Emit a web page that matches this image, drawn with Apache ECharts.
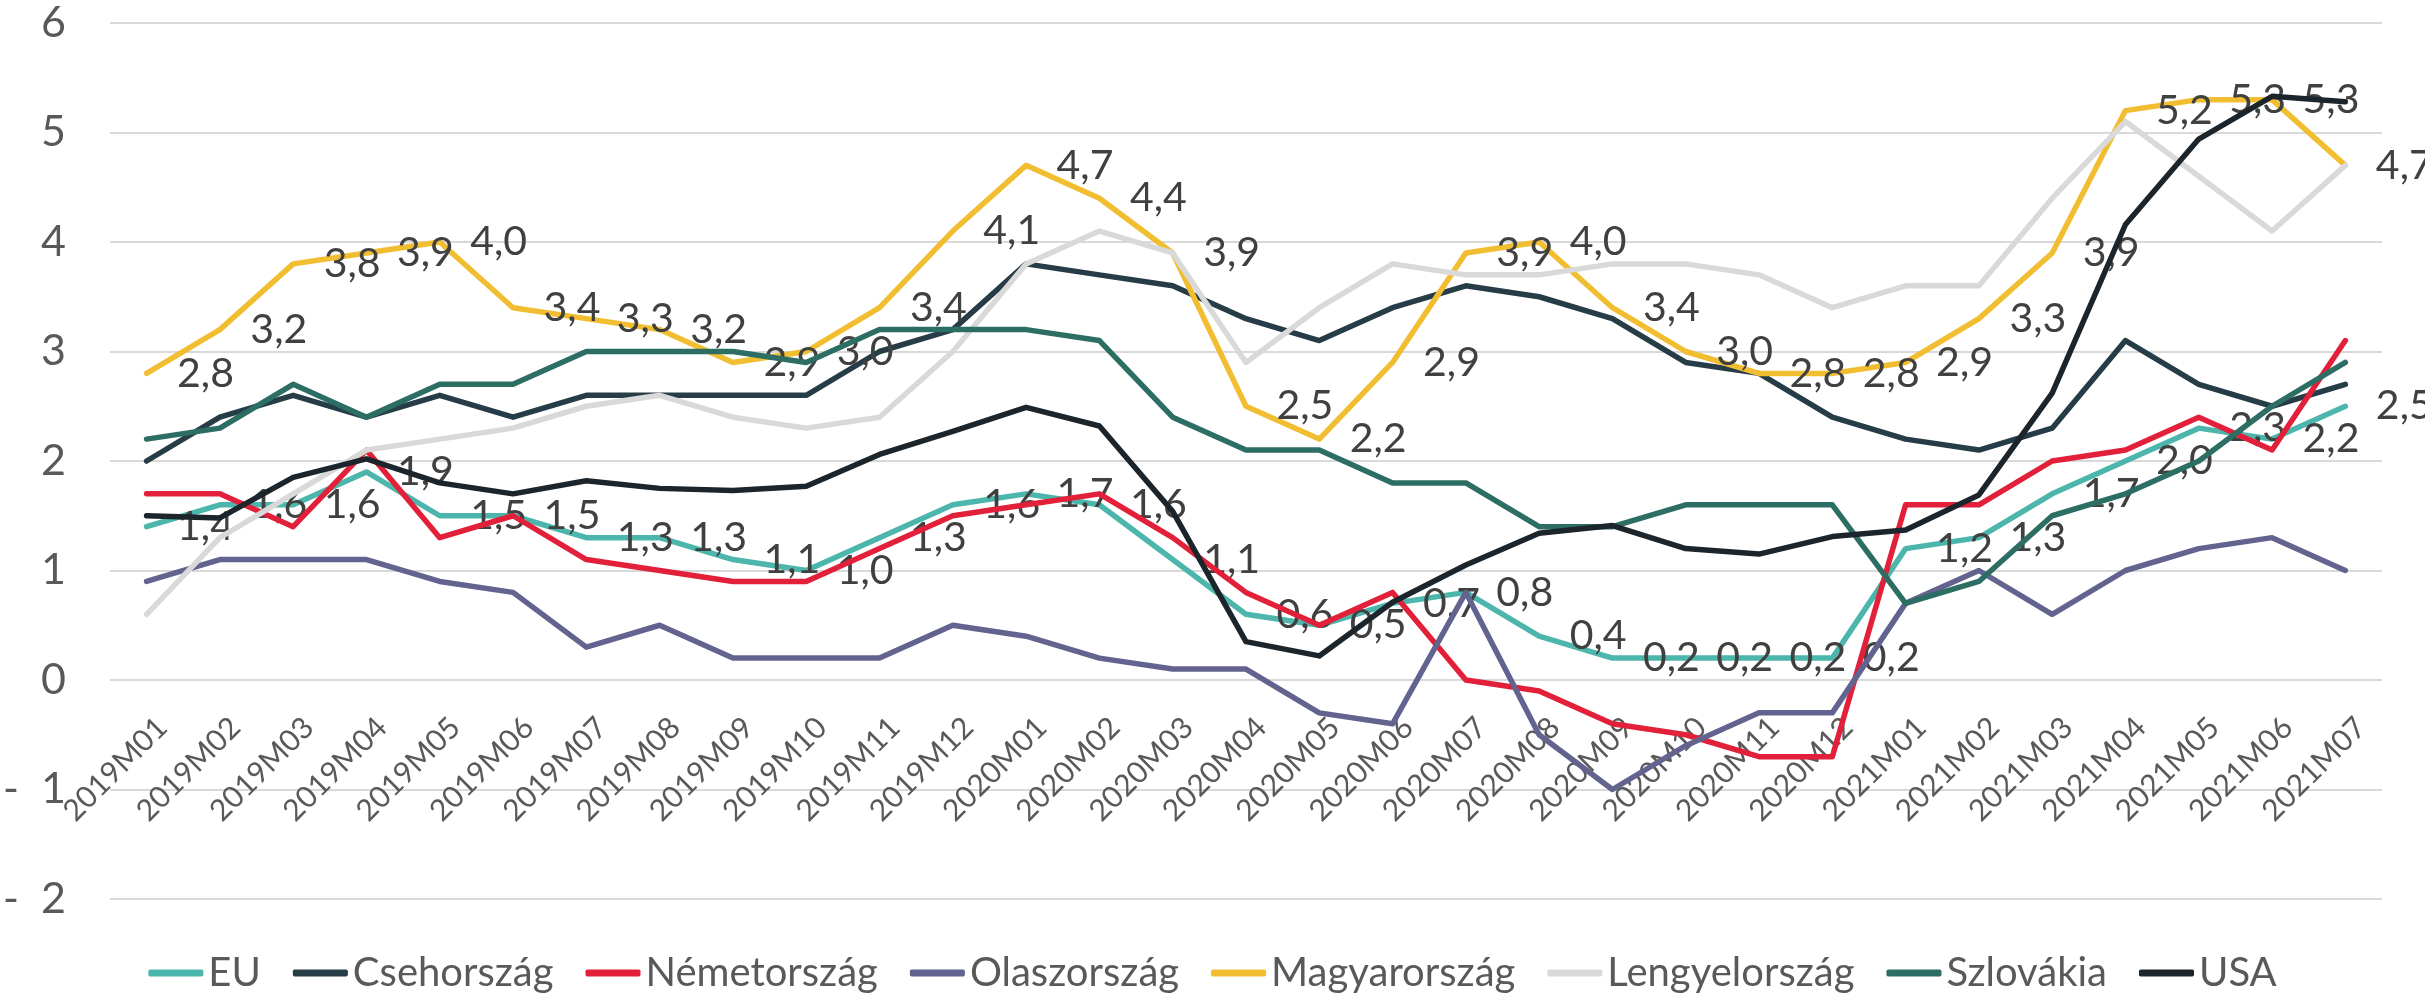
<!DOCTYPE html>
<html>
<head>
<meta charset="utf-8">
<script src="https://cdn.jsdelivr.net/npm/echarts@6/dist/echarts.min.js"></script>
<style>
html,body{margin:0;padding:0;background:#fff;}
#chart{width:2425px;height:996px;}
</style>
</head>
<body>
<div id="chart"></div>
<script>
const categories = ['2019M01','2019M02','2019M03','2019M04','2019M05','2019M06','2019M07','2019M08','2019M09','2019M10','2019M11','2019M12',
  '2020M01','2020M02','2020M03','2020M04','2020M05','2020M06','2020M07','2020M08','2020M09','2020M10','2020M11','2020M12',
  '2021M01','2021M02','2021M03','2021M04','2021M05','2021M06','2021M07'];

const seriesNames = ['EU','Csehország','Németország','Olaszország','Magyarország','Lengyelország','Szlovákia','USA'];

const euValues = [1.4,1.6,1.6,1.9,1.5,1.5,1.3,1.3,1.1,1.0,1.3,1.6, 1.7,1.6,1.1,0.6,0.5,0.7,0.8,0.4,0.2,0.2,0.2,0.2, 1.2,1.3,1.7,2.0,2.3,2.2,2.5];
const czValues = [2.0,2.4,2.6,2.4,2.6,2.4,2.6,2.6,2.6,2.6,3.0,3.2, 3.8,3.7,3.6,3.3,3.1,3.4,3.6,3.5,3.3,2.9,2.8,2.4, 2.2,2.1,2.3,3.1,2.7,2.5,2.7];
const deValues = [1.7,1.7,1.4,2.1,1.3,1.5,1.1,1.0,0.9,0.9,1.2,1.5, 1.6,1.7,1.3,0.8,0.5,0.8,0.0,-0.1,-0.4,-0.5,-0.7,-0.7, 1.6,1.6,2.0,2.1,2.4,2.1,3.1];
const itValues = [0.9,1.1,1.1,1.1,0.9,0.8,0.3,0.5,0.2,0.2,0.2,0.5, 0.4,0.2,0.1,0.1,-0.3,-0.4,0.8,-0.5,-1.0,-0.6,-0.3,-0.3, 0.7,1.0,0.6,1.0,1.2,1.3,1.0];
const huValues = [2.8,3.2,3.8,3.9,4.0,3.4,3.3,3.2,2.9,3.0,3.4,4.1, 4.7,4.4,3.9,2.5,2.2,2.9,3.9,4.0,3.4,3.0,2.8,2.8, 2.9,3.3,3.9,5.2,5.3,5.3,4.7];
const plValues = [0.6,1.3,1.7,2.1,2.2,2.3,2.5,2.6,2.4,2.3,2.4,3.0, 3.8,4.1,3.9,2.9,3.4,3.8,3.7,3.7,3.8,3.8,3.7,3.4, 3.6,3.6,4.4,5.1,4.6,4.1,4.7];
const skValues = [2.2,2.3,2.7,2.4,2.7,2.7,3.0,3.0,3.0,2.9,3.2,3.2, 3.2,3.1,2.4,2.1,2.1,1.8,1.8,1.4,1.4,1.6,1.6,1.6, 0.7,0.9,1.5,1.7,2.0,2.5,2.9];
const usValues = [1.5,1.48,1.85,2.02,1.8,1.7,1.82,1.75,1.73,1.77,2.06,2.27, 2.49,2.32,1.54,0.35,0.22,0.71,1.05,1.34,1.41,1.2,1.15,1.31, 1.37,1.69,2.62,4.16,4.94,5.33,5.28];

const yTicks = [-2,-1,0,1,2,3,4,5,6];

const allValues = [euValues, czValues, deValues, itValues, huValues, plValues, skValues, usValues];
const colors = ['#4DB6AC','#263D47','#E2203A','#63638F','#F2BE31','#D9D9D9','#2D6E64','#1B252B'];
const labelled = [true,false,false,false,true,false,false,false];

const FONT = 'Lato';
const W = 2425, H = 996;
const GRID = { left: 104, right: 43, top: 23, bottom: 97 };
const yMin = yTicks[0], yMax = yTicks[yTicks.length - 1];
// x axis sits on the zero line (as in the original); shift it up from the grid bottom
const plotH = H - GRID.top - GRID.bottom;
const zeroOffset = -plotH * (0 - yMin) / (yMax - yMin);

const series = seriesNames.map((name, i) => ({
  name: name,
  type: 'line',
  data: allValues[i],
  symbol: 'circle',
  symbolSize: 1,
  showSymbol: true,
  smooth: false,
  lineStyle: { color: colors[i], width: 5.5, cap: 'round', join: 'round' },
  itemStyle: { color: colors[i] },
  emphasis: { disabled: true },
  label: {
    show: labelled[i],
    position: 'right',
    distance: 30,
    color: '#404040',
    fontFamily: FONT,
    fontSize: 41,
    formatter: p => p.value.toFixed(1).replace('.', ',')
  },
  z: 2 + i
}));

const chart = echarts.init(document.getElementById('chart'), null, { renderer: 'canvas' });
chart.setOption({
  animation: false,
  backgroundColor: '#ffffff',
  grid: Object.assign({ containLabel: false }, GRID),
  xAxis: {
    type: 'category',
    data: categories,
    boundaryGap: true,
    position: 'bottom',
    offset: zeroOffset,
    axisLine: { show: false, onZero: false },
    axisTick: { show: false },
    axisLabel: {
      rotate: 45,
      interval: 0,
      margin: 27,
      align: 'right',
      verticalAlign: 'top',
      padding: [7, 0, 0, 0],
      color: '#595959',
      fontFamily: FONT,
      fontSize: 30
    },
    splitLine: { show: false }
  },
  yAxis: {
    type: 'value',
    min: yMin,
    max: yMax,
    interval: 1,
    axisLine: { show: false },
    axisTick: { show: false },
    axisLabel: {
      margin: 44,
      color: '#595959',
      fontFamily: FONT,
      fontSize: 43,
      formatter: v => v < 0 ? '-  ' + (-v) : String(v)
    },
    splitLine: { lineStyle: { color: '#D9D9D9', width: 2 } }
  },
  legend: {
    data: seriesNames.map(n => ({ name: n, icon: 'roundRect' })),
    top: 948,
    left: 'center',
    itemWidth: 55,
    itemHeight: 7,
    itemGap: 32,
    textStyle: { color: '#595959', fontFamily: FONT, fontSize: 40 }
  },
  series: series
});
</script>
</body>
</html>
